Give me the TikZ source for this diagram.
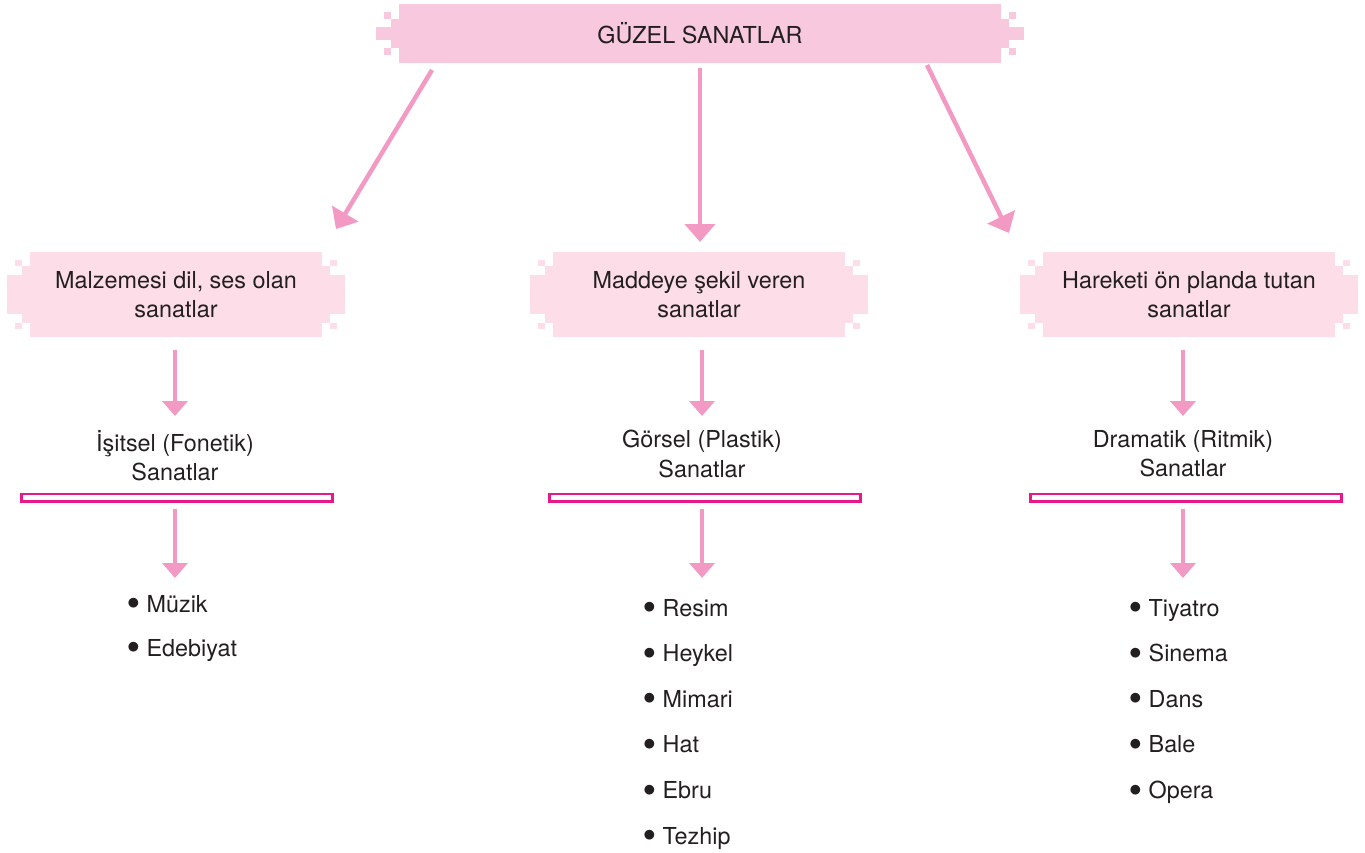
\documentclass[tikz,border=0pt]{standalone}
\usepackage{fontspec}
\setmainfont{TeX Gyre Heros}
\usepackage{xcolor}
\usetikzlibrary{arrows.meta,calc,positioning}

\definecolor{topPink}{HTML}{F8C8DE}
\definecolor{boxPink}{HTML}{FCDDE8}
\definecolor{arrowPink}{HTML}{F39AC4}
\definecolor{barPink}{HTML}{E8178A}
\definecolor{inkGray}{HTML}{231F20}

% stepped ends of a box: node, colour, inset of first step
\newcommand{\notches}[3]{%
  \fill[#2] ($(#1.north west)+(-8,#3)$) rectangle ($(#1.south west)+(0,-#3)$);
  \fill[#2] ($(#1.north west)+(-23,23)$) rectangle ($(#1.south west)+(-8,-23)$);
  \fill[#2] ($(#1.north west)+(-15,8)$) rectangle ($(#1.north west)+(-8,#3)$);
  \fill[#2] ($(#1.south west)+(-15,-8)$) rectangle ($(#1.south west)+(-8,-#3)$);
  \fill[#2] ($(#1.north east)+(8,#3)$) rectangle ($(#1.south east)+(0,-#3)$);
  \fill[#2] ($(#1.north east)+(23,23)$) rectangle ($(#1.south east)+(8,-23)$);
  \fill[#2] ($(#1.north east)+(15,8)$) rectangle ($(#1.north east)+(8,#3)$);
  \fill[#2] ($(#1.south east)+(15,-8)$) rectangle ($(#1.south east)+(8,-#3)$);
}
\newcommand{\dotitem}[1]{\raisebox{0.1em}{$\bullet$}\hskip0.14cm#1}

\begin{document}
\begin{tikzpicture}[x=0.02cm, y=-0.02cm, text=inkGray, font=\fontsize{13.3}{16.5}\selectfont,
  top box/.style={rectangle, fill=topPink, inner sep=0, outer sep=0, minimum width=12.04cm, minimum height=1.18cm},
  cat box/.style={rectangle, fill=boxPink, inner sep=0, outer sep=0, minimum width=5.84cm, minimum height=1.7cm, align=center},
  kind/.style={inner sep=0, outer sep=0, align=center, anchor=north, font=\fontsize{13.3}{17}\selectfont},
  bar/.style={draw=barPink, fill=white, line width=0.05cm, inner sep=0, outer sep=0, minimum width=6.23cm, minimum height=0.15cm},
  item/.style={inner sep=0, outer sep=0, anchor=base west},
  big arrow/.style={draw=arrowPink, line width=0.09cm, -{Triangle[width=0.6cm,length=0.36cm]}},
  small arrow/.style={draw=arrowPink, line width=0.08cm, -{Triangle[width=0.5cm,length=0.3cm]}}]
\useasboundingbox (0,0) rectangle (1365,852);

% top
\node[top box] (gs) at (700,33.5) {GÜZEL SANATLAR};
\notches{gs}{topPink}{15}

% three groups
\node[cat box] (dil) at (176,294.5) {Malzemesi dil, ses olan\\sanatlar};
\node[cat box] (mad) at (699,294.5) {Maddeye şekil veren\\sanatlar};
\node[cat box] (har) at (1189,294.5) {Hareketi ön planda tutan\\sanatlar};
\notches{dil}{boxPink}{14}
\notches{mad}{boxPink}{14}
\notches{har}{boxPink}{14}

\coordinate (gsl) at (432,70);
\coordinate (dilt) at (336,229);
\coordinate (gsr) at (927,65);
\coordinate (hart) at (1009,233);
\draw[big arrow] (gsl) -- (dilt);
\draw[big arrow, shorten <=0.1cm, shorten >=0.2cm] (gs.south) -- (gs.south |- mad.north);
\draw[big arrow] (gsr) -- (hart);

% kinds
\node[kind] (isit) at (175,430) {İşitsel (Fonetik)\\Sanatlar};
\node[kind] (gors) at (702,430) {Görsel (Plastik)\\Sanatlar};
\node[kind] (dram) at (1183,430) {Dramatik (Ritmik)\\Sanatlar};

\node[bar] (bar1) at (177,497.5) {};
\node[bar] (bar2) at (705,497.5) {};
\node[bar] (bar3) at (1186,497.5) {};

\draw[small arrow, shorten <=0.26cm, shorten >=0.28cm] (isit.north |- dil.south) -- (isit.north);
\draw[small arrow, shorten <=0.26cm, shorten >=0.28cm] (gors.north |- mad.south) -- (gors.north);
\draw[small arrow, shorten <=0.26cm, shorten >=0.28cm] (dram.north |- har.south) -- (dram.north);

% lists
\foreach \txt [count=\i] in {Müzik,Edebiyat}
  \node[item] (a\i) at (127,{612+44*(\i-1)}) {\dotitem{\txt}};
\foreach \txt [count=\i] in {Resim,Heykel,Mimari,Hat,Ebru,Tezhip}
  \node[item] (b\i) at (643,{616+45.6*(\i-1)}) {\dotitem{\txt}};
\foreach \txt [count=\i] in {Tiyatro,Sinema,Dans,Bale,Opera}
  \node[item] (c\i) at (1129,{616+45.6*(\i-1)}) {\dotitem{\txt}};

\draw[small arrow, shorten <=0.15cm, shorten >=0.68cm] (isit.south |- bar1.south) -- (isit.south |- a1.base west);
\draw[small arrow, shorten <=0.15cm, shorten >=0.76cm] (gors.south |- bar2.south) -- (gors.south |- b1.base west);
\draw[small arrow, shorten <=0.15cm, shorten >=0.76cm] (dram.south |- bar3.south) -- (dram.south |- c1.base west);
\end{tikzpicture}
\end{document}
